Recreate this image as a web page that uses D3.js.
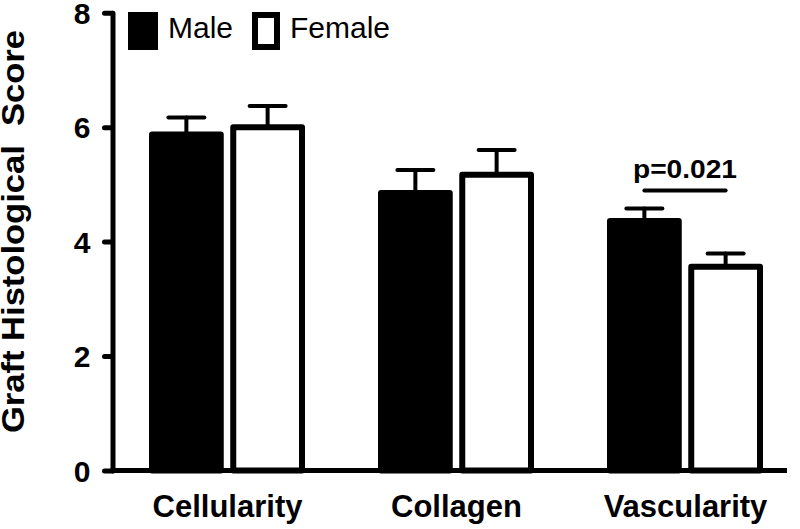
<!DOCTYPE html>
<html>
<head>
<meta charset="utf-8">
<script src="https://cdn.jsdelivr.net/npm/d3@7"></script>
<style>
  html, body { margin: 0; padding: 0; background: #fff; }
  svg { display: block; font-family: "Liberation Sans", Arial, Helvetica, sans-serif; }
</style>
</head>
<body>
<div id="chart"></div>
<script>
// Graft histological score by sex (mean + SEM)
const categories = ['Cellularity', 'Collagen', 'Vascularity'];
const groups = ['Male', 'Female'];
const maleMeans = [5.87, 4.85, 4.36];
const maleSEM = [0.30, 0.40, 0.22];
const femaleMeans = [6.00, 5.17, 3.56];
const femaleSEM = [0.37, 0.43, 0.23];
const yTicks = [0, 2, 4, 6, 8];
const yLabel = 'Graft Histological  Score';
const pValue = { category: 'Vascularity', label: 'p=0.021' };

const width = 800;
const height = 529;

const svg = d3.select('#chart')
  .append('svg')
  .attr('width', width)
  .attr('height', height);

// scales
const y = d3.scaleLinear().domain([0, 8]).range([470.5, 12.7]);
const x0 = d3.scalePoint().domain(categories).range([227, 685]);
const x1 = d3.scaleBand().domain(groups).range([-78, 78]).paddingInner(0.08);
const bw = x1.bandwidth();
const axisX = 112.5;

// build rows
const rows = [];
categories.forEach((c, i) => {
  rows.push({ cat: c, grp: 'Male', mean: maleMeans[i], sem: maleSEM[i] });
  rows.push({ cat: c, grp: 'Female', mean: femaleMeans[i], sem: femaleSEM[i] });
});
const cx = d => x0(d.cat) + x1(d.grp) + bw / 2;

// error bars (behind bars)
const err = svg.append('g').attr('stroke', '#000').attr('stroke-width', 4).attr('stroke-linecap', 'round');
err.selectAll('line.stem')
  .data(rows)
  .enter().append('line')
  .attr('class', 'stem')
  .attr('x1', cx).attr('x2', cx)
  .attr('y1', d => y(d.mean)).attr('y2', d => y(d.mean + d.sem));
err.selectAll('line.cap')
  .data(rows)
  .enter().append('line')
  .attr('class', 'cap')
  .attr('x1', d => cx(d) - 18).attr('x2', d => cx(d) + 18)
  .attr('y1', d => y(d.mean + d.sem)).attr('y2', d => y(d.mean + d.sem));

// bars
svg.append('g')
  .selectAll('rect')
  .data(rows)
  .enter().append('rect')
  .attr('x', d => x0(d.cat) + x1(d.grp) + 3)
  .attr('width', bw - 6)
  .attr('y', d => y(d.mean))
  .attr('height', d => y(0) - y(d.mean))
  .attr('fill', d => d.grp === 'Male' ? '#000' : '#fff')
  .attr('stroke', '#000')
  .attr('stroke-width', 6)
  .attr('stroke-linejoin', 'round');

// x baseline
svg.append('line')
  .attr('x1', axisX - 2).attr('x2', 787)
  .attr('y1', y(0)).attr('y2', y(0))
  .attr('stroke', '#000').attr('stroke-width', 5);

// y axis
const yAxis = svg.append('g')
  .attr('transform', `translate(${axisX},0)`)
  .call(d3.axisLeft(y).tickValues(yTicks).tickSize(8).tickSizeOuter(0).tickPadding(14));
yAxis.select('.domain').attr('stroke-width', 5).attr('stroke-linecap', 'round');
yAxis.selectAll('.tick line').attr('stroke-width', 5).attr('stroke-linecap', 'round');
yAxis.selectAll('.tick text')
  .attr('font-family', '"Liberation Sans", Arial, sans-serif')
  .attr('font-size', 30).attr('font-weight', 'bold').attr('fill', '#000')
  .attr('dy', '0.36em');

// x axis labels
const xAxis = svg.append('g')
  .attr('transform', `translate(0,${y(0)})`)
  .call(d3.axisBottom(x0).tickSize(0).tickPadding(24));
xAxis.select('.domain').remove();
xAxis.selectAll('.tick text')
  .attr('font-family', '"Liberation Sans", Arial, sans-serif')
  .attr('font-size', 31).attr('font-weight', 'bold').attr('fill', '#000');

// y label
svg.append('text')
  .attr('transform', 'translate(24,231.5) rotate(-90)')
  .attr('text-anchor', 'middle')
  .attr('font-size', 31)
  .attr('font-weight', 'bold')
  .attr('textLength', 403)
  .attr('lengthAdjust', 'spacingAndGlyphs')
  .style('white-space', 'pre')
  .text(yLabel);

// legend
const legend = svg.append('g');
const legendX = [131, 255];
const legendW = [24, 22];
legend.selectAll('rect')
  .data(groups)
  .enter().append('rect')
  .attr('x', (d, i) => legendX[i])
  .attr('y', 15)
  .attr('width', (d, i) => legendW[i])
  .attr('height', 32)
  .attr('fill', d => d === 'Male' ? '#000' : '#fff')
  .attr('stroke', '#000')
  .attr('stroke-width', 6);
legend.selectAll('text')
  .data(groups)
  .enter().append('text')
  .attr('x', (d, i) => legendX[i] + legendW[i] + 13)
  .attr('y', 38)
  .attr('font-size', 30)
  .text(d => d);

// significance annotation
const pm = x0(pValue.category) + x1('Male') + bw / 2;
const pf = x0(pValue.category) + x1('Female') + bw / 2;
svg.append('line')
  .attr('x1', pm).attr('x2', pf)
  .attr('y1', 190.5).attr('y2', 190.5)
  .attr('stroke', '#000').attr('stroke-width', 4).attr('stroke-linecap', 'round');
svg.append('text')
  .attr('x', (pm + pf) / 2)
  .attr('y', 178)
  .attr('text-anchor', 'middle')
  .attr('font-size', 26)
  .attr('font-weight', 'bold')
  .attr('textLength', 104)
  .attr('lengthAdjust', 'spacingAndGlyphs')
  .text(pValue.label);
</script>
</body>
</html>
